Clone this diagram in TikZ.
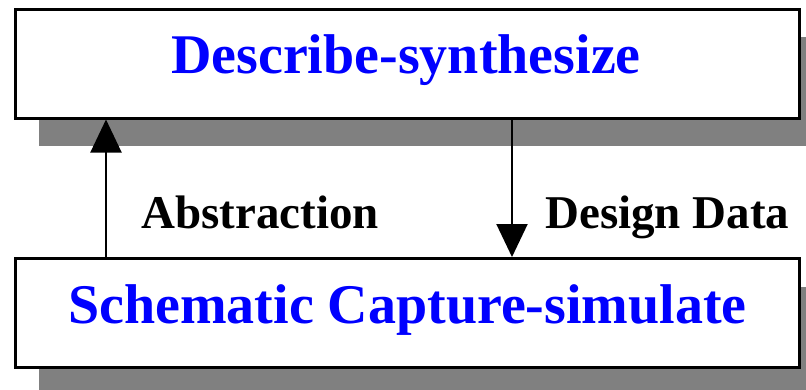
\documentclass[tikz,border=0pt]{standalone}
\usepackage{fontspec}
\setmainfont{Liberation Serif}
\usetikzlibrary{arrows.meta}
\definecolor{shadowgray}{RGB}{128,128,128}
\definecolor{titleblue}{RGB}{0,0,255}
\tikzset{
  boxshape/.style={draw=black, line width=3pt, fill=white, rectangle, inner sep=0pt, minimum width=784pt, minimum height=109pt},
  shadowshape/.style={fill=shadowgray, draw=none, rectangle, inner sep=0pt, minimum width=784pt, minimum height=109pt},
  titletext/.style={font=\fontsize{56}{60}\selectfont\bfseries, text=titleblue, inner sep=0pt, anchor=base},
  labeltext/.style={font=\fontsize{47}{50}\selectfont\bfseries, text=black, inner sep=0pt, anchor=base west},
  flow/.style={line width=2pt, -{Triangle[length=33pt,width=31pt]}}
}
\begin{document}
\begin{tikzpicture}[x=1pt,y=-1pt]
\useasboundingbox (0,0) rectangle (806,389);
% shadows
\node[shadowshape] (topshadow) at (431,91.5) {};
\node[shadowshape] (botshadow) at (431,341) {};
% boxes
\node[boxshape] (topbox) at (407,63.5) {};
\node[boxshape] (botbox) at (407,313) {};
% titles
\node[titletext] (toptitle) at (406,73) {Describe-synthesize};
\node[titletext] (bottitle) at (407.5,323) {Schematic Capture-simulate};
% connector end points
\coordinate (upfrom) at (botbox.north -| 106,0);
\coordinate (upto) at (topbox.south -| 106,0);
\coordinate (downfrom) at (topbox.south -| 512,0);
\coordinate (downto) at (botbox.north -| 512,0);
\draw[flow] (upfrom) -- (upto);
\draw[flow] (downfrom) -- (downto);
% labels
\node[labeltext] (abstr) at (141,228) {Abstraction};
\node[labeltext] (ddata) at (545,228) {Design Data};
\end{tikzpicture}
\end{document}
